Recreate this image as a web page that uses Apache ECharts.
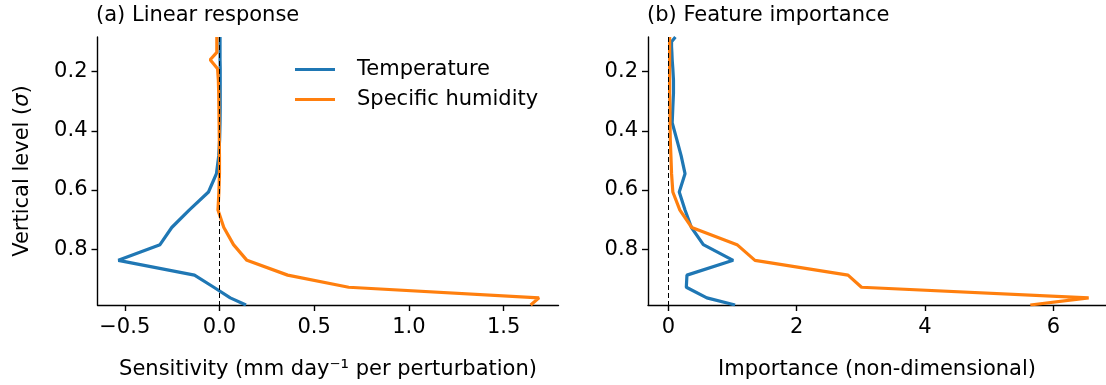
<!DOCTYPE html>
<html>
<head>
<meta charset="utf-8">
<script src="https://cdn.jsdelivr.net/npm/echarts@6/dist/echarts.min.js"></script>
<style>
  html, body { margin: 0; padding: 0; background: #fff; }
  #chart { width: 1106px; height: 385px; }
</style>
</head>
<body>
<div id="chart"></div>
<script>
// sigma levels, top to bottom
var levels = [0.083, 0.099, 0.115, 0.135, 0.16, 0.19, 0.229, 0.273, 0.321, 0.373, 0.428,
  0.485, 0.545, 0.607, 0.668, 0.727, 0.785, 0.838, 0.888, 0.929, 0.965, 0.989];

// (a) linear response, mm/day per perturbation
var tempSens = [0.003, 0.003, 0.003, 0.003, 0.003, 0.004, 0.004, 0.004, 0.004, 0.003, 0.001,
  -0.004, -0.016, -0.058, -0.16, -0.252, -0.314, -0.534, -0.132, -0.03, 0.057, 0.14];
var humSens = [-0.014, -0.014, -0.014, -0.014, -0.049, -0.01, -0.006, -0.004, -0.003, -0.002, -0.001,
  0, 0, -0.003, -0.008, 0.023, 0.074, 0.145, 0.36, 0.682, 1.687, 1.643];

// (b) feature importance
var tempImp = [0.11, 0.05, 0.05, 0.055, 0.06, 0.07, 0.08, 0.08, 0.07, 0.06, 0.13,
  0.2, 0.26, 0.17, 0.26, 0.36, 0.545, 1.01, 0.29, 0.28, 0.6, 1.04];
var humImp = [0.02, 0.02, 0.02, 0.02, 0.02, 0.02, 0.02, 0.02, 0.025, 0.026, 0.03,
  0.04, 0.05, 0.07, 0.18, 0.365, 1.07, 1.35, 2.8, 3.01, 6.55, 5.64];

var seriesNames = ['Temperature', 'Specific humidity'];
var xTicksA = [-0.5, 0, 0.5, 1, 1.5];
var xTicksB = [0, 2, 4, 6];
var yTicks = [0.2, 0.4, 0.6, 0.8];

var font = 'DejaVu Sans';
var fs = 21;
var blue = '#1f77b4', orange = '#ff7f0e';

function pairs(vals) {
  return vals.map(function (v, i) { return [v, levels[i]]; });
}

function fmtA(v) {
  return (v < 0 ? '\u2212' : '') + Math.abs(v).toFixed(1);
}

var axisLine = { show: true, onZero: false, lineStyle: { color: '#000', width: 1.4 } };
var axisTick = { show: true, length: 6, lineStyle: { color: '#000', width: 1.4 } };

function xAxis(idx, min, max, ticks, fmt, name) {
  return {
    type: 'value', gridIndex: idx, min: min, max: max,
    name: name, nameLocation: 'middle', nameGap: 54,
    nameTextStyle: { fontFamily: font, fontSize: fs, color: '#000' },
    axisLine: axisLine,
    axisTick: Object.assign({ customValues: ticks }, axisTick),
    axisLabel: { customValues: ticks, formatter: fmt, margin: 12,
      fontFamily: font, fontSize: fs, color: '#000' },
    splitLine: { show: false }
  };
}

function yAxis(idx, name) {
  return {
    type: 'value', gridIndex: idx, inverse: true, min: levels[0], max: levels[levels.length - 1],
    name: name, nameLocation: 'middle', nameGap: 64,
    nameTextStyle: { fontFamily: font, fontSize: fs, color: '#000',
      rich: { i: { fontFamily: font, fontSize: fs, fontStyle: 'italic', color: '#000' } } },
    axisLine: axisLine,
    axisTick: Object.assign({ customValues: yTicks }, axisTick),
    axisLabel: { customValues: yTicks, formatter: function (v) { return v.toFixed(1); },
      margin: 10, fontFamily: font, fontSize: fs, color: '#000' },
    splitLine: { show: false }
  };
}

function zeroLine(idx) {
  return {
    type: 'line', xAxisIndex: idx, yAxisIndex: idx, data: [], z: 1, silent: true,
    markLine: {
      silent: true, symbol: 'none', animation: false,
      label: { show: false },
      lineStyle: { color: '#000', width: 1, type: [5, 3] },
      data: [{ xAxis: 0 }]
    }
  };
}

function curve(name, vals, color, idx) {
  return {
    name: name, type: 'line', xAxisIndex: idx, yAxisIndex: idx,
    data: pairs(vals), symbol: 'none', z: 3,
    lineStyle: { color: color, width: 3.2 }, itemStyle: { color: color }
  };
}

var chart = echarts.init(document.getElementById('chart'));
chart.setOption({
  animation: false,
  title: [
    { text: '(a) Linear response', left: 96, top: 5, padding: 0,
      textStyle: { fontFamily: font, fontSize: fs, fontWeight: 'normal', color: '#000' } },
    { text: '(b) Feature importance', left: 647, top: 5, padding: 0,
      textStyle: { fontFamily: font, fontSize: fs, fontWeight: 'normal', color: '#000' } }
  ],
  legend: {
    data: seriesNames, orient: 'vertical', left: 295, top: 59, padding: 0, itemGap: 9,
    icon: 'rect', itemWidth: 40, itemHeight: 3,
    textStyle: { fontFamily: font, fontSize: fs, color: '#000', padding: [0, 0, 0, 17] }
  },
  grid: [
    { left: 97.5, right: 547.5, top: 37, bottom: 77.7 },
    { left: 648, right: 0, top: 37, bottom: 77.7 }
  ],
  xAxis: [
    xAxis(0, -0.644, 1.79, xTicksA, fmtA, 'Sensitivity (mm day\u207B\u00B9 per perturbation)'),
    xAxis(1, -0.317, 6.82, xTicksB, function (v) { return String(v); }, 'Importance (non-dimensional)')
  ],
  yAxis: [
    yAxis(0, 'Vertical level ({i|\u03C3})'),
    yAxis(1, '')
  ],
  series: [
    zeroLine(0),
    zeroLine(1),
    curve(seriesNames[0], tempSens, blue, 0),
    curve(seriesNames[1], humSens, orange, 0),
    curve(seriesNames[0], tempImp, blue, 1),
    curve(seriesNames[1], humImp, orange, 1)
  ]
});
</script>
</body>
</html>
